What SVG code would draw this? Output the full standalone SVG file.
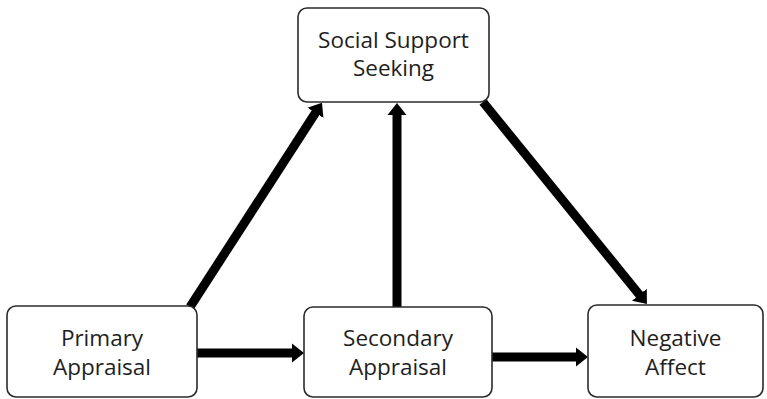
<svg xmlns="http://www.w3.org/2000/svg" width="767" height="399" viewBox="0 0 767 399">
<style>
.box{fill:#fff;stroke:#2b2b2b;stroke-width:1.6}
.lbl{font-family:"Open Sans","Noto Sans",sans-serif;font-size:22.5px;fill:#1e1e1e;text-anchor:middle}
.edge{stroke:#000;stroke-width:9;fill:none;marker-end:url(#ah)}
</style>
<defs>
<marker id="ah" markerUnits="userSpaceOnUse" markerWidth="13" markerHeight="20" refX="1" refY="10" orient="auto">
<path d="M0,0.5 L12,10 L0,19.5 z" fill="#000"/>
</marker>
</defs>
<rect width="767" height="399" fill="#fff"/>
<g id="edges">
<line class="edge" x1="190" y1="307" x2="316" y2="112"/>
<line class="edge" x1="397" y1="307" x2="397" y2="114"/>
<line class="edge" x1="483" y1="102" x2="640" y2="295.5"/>
<line class="edge" x1="197" y1="353" x2="293" y2="353"/>
<line class="edge" x1="492" y1="357" x2="577" y2="357"/>
</g>
<g id="social">
<rect class="box" x="298" y="8" width="191" height="94" rx="9"/>
<text class="lbl" x="393.5" y="48">Social Support</text>
<text class="lbl" x="393.5" y="76">Seeking</text>
</g>
<g id="primary">
<rect class="box" x="7" y="306" width="190" height="91" rx="9"/>
<text class="lbl" x="102" y="346">Primary</text>
<text class="lbl" x="102" y="375">Appraisal</text>
</g>
<g id="secondary">
<rect class="box" x="304" y="307" width="188" height="90" rx="9"/>
<text class="lbl" x="398" y="346">Secondary</text>
<text class="lbl" x="398" y="375">Appraisal</text>
</g>
<g id="negative">
<rect class="box" x="588" y="305" width="175" height="92" rx="9"/>
<text class="lbl" x="675.5" y="346">Negative</text>
<text class="lbl" x="675.5" y="375">Affect</text>
</g>
</svg>
